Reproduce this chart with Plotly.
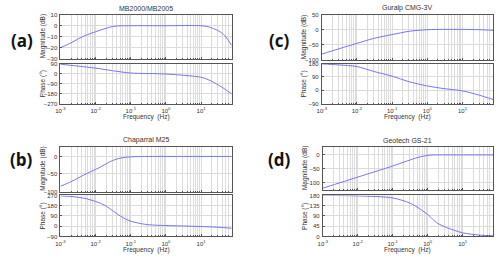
import plotly.graph_objects as go

# ---------------- data ----------------
# (a) MB2000/MB2005
freq_a_mag = [0.001, 0.002, 0.003, 0.005, 0.01, 0.02, 0.03, 0.05, 0.1, 1, 10, 16, 31, 47, 74]
mag_a = [-20, -15.6, -12.5, -9, -5.5, -2.3, -0.8, -0.1, 0, 0, 0, -1, -4.6, -9, -18]
freq_a_ph = [0.001, 0.003, 0.01, 0.03, 0.1, 1, 10, 16, 31, 47, 74]
phase_a = [84, 68, 49, 26, 5, -4, -33, -55, -103, -139, -183]

# (c) Guralp CMG-3V
freq_c_mag = [0.001, 0.003, 0.01, 0.03, 0.1, 0.3, 1, 3, 10, 30, 74]
mag_c = [-81.5, -64, -45.6, -29, -16.3, -5.4, 0, 1, 1, 0, -2]
freq_c_ph = [0.001, 0.003, 0.01, 0.03, 0.1, 0.3, 1, 3, 10, 30, 74]
phase_c = [178, 171, 160, 127, 95, 58, 29, 11, -4, -33, -62]

# (b) Chaparral M25
freq_b_mag = [0.001, 0.002, 0.003, 0.005, 0.007, 0.01, 0.015, 0.02, 0.03, 0.05, 0.07, 0.1, 0.2, 0.5, 1, 10, 74]
mag_b = [-85, -72, -63, -51, -44, -37, -28, -21, -12, -5, -2.5, -1.2, -0.3, 0, 0, 0, 0]
freq_b_ph = [0.001, 0.002, 0.003, 0.005, 0.01, 0.015, 0.02, 0.03, 0.05, 0.07, 0.1, 0.2, 0.3, 0.5, 1, 3, 10, 30, 74]
phase_b = [266, 261, 255, 244, 217, 196, 176, 138, 90, 64, 44, 22, 14, 9, 6, 2, -3, -9, -18]

# (d) Geotech GS-21
freq_d_mag = [0.001, 0.01, 0.1, 0.316, 0.61, 1.1, 1.78, 10, 74]
mag_d = [-120, -80, -40, -18, -7, -1, 0, 0, 0]
freq_d_ph = [0.001, 0.01, 0.1, 0.316, 0.61, 1.1, 1.78, 3.5, 10, 30, 74]
phase_d = [180, 178, 169, 146, 120, 91, 61, 39, 16, 6, 3]

titles = ["MB2000/MB2005", "Guralp CMG-3V", "Chaparral M25", "Geotech GS-21"]
letters = ["(a)", "(c)", "(b)", "(d)"]

x_tickvals = [0.001, 0.01, 0.1, 1, 10]
x_ticktext = ["10<sup>-3</sup>", "10<sup>-2</sup>", "10<sup>-1</sup>", "10<sup>0</sup>", "10<sup>1</sup>"]
minor_vals = [m * 10 ** e for e in range(-3, 2) for m in range(2, 10)]

mag_ticks = [[10, 0, -10, -20, -30], [50, 0, -50, -100], [0, -50, -100], [0, -50, -100]]
mag_ranges = [[-30, 10], [-100, 50], [-100, 28], [-125, 30]]
ph_ticks = [[90, 0, -90, -180, -270], [180, 90, 0, -90], [270, 180, 90, 0, -90], [180, 135, 90, 45, 0]]
ph_ranges = [[-270, 90], [-90, 180], [-90, 270], [0, 180]]

series = [
    (freq_a_mag, mag_a, freq_a_ph, phase_a),
    (freq_c_mag, mag_c, freq_c_ph, phase_c),
    (freq_b_mag, mag_b, freq_b_ph, phase_b),
    (freq_d_mag, mag_d, freq_d_ph, phase_d),
]

# ---------------- layout geometry (pixels) ----------------
W, H = 500, 259
# x0, x1, mag_top, mag_bot, ph_top, ph_bot
boxes = [
    (56, 229, 12, 57, 62, 103),
    (320, 493, 12, 58, 62, 103),
    (56, 229, 147, 193, 197, 239),
    (321, 493, 147, 191, 197, 239),
]
letter_pos = [(17, 38), (277, 38), (17, 160), (277, 160)]

LINE = "#7676ee"
GRID = "#dcdcdc"
FRAME = "#555555"
TXT = "#333333"
FONT = "Liberation Sans"
TICK = 6

fig = go.Figure()
layout = dict(
    width=W, height=H, margin=dict(l=0, r=0, t=0, b=0),
    paper_bgcolor="white", plot_bgcolor="white", showlegend=False,
    font=dict(family=FONT, size=7, color=TXT),
)
annotations = []

def xd(p):
    return p / W

def yd(p):
    return 1 - p / H

for i, (fm, m, fp, p) in enumerate(series):
    x0, x1, mt, mb, pt, pb = boxes[i]
    ka = 2 * i + 1
    kb = 2 * i + 2
    common_x = dict(
        type="log", range=[-3, 1.87], domain=[xd(x0), xd(x1)],
        tickvals=x_tickvals, ticktext=x_ticktext,
        showgrid=True, gridcolor=GRID, gridwidth=1,
        minor=dict(tickvals=minor_vals, showgrid=True, gridcolor=GRID, gridwidth=1,
                   ticks="inside", ticklen=1, tickcolor=FRAME),
        showline=True, linecolor=FRAME, linewidth=1, mirror=True,
        ticks="inside", ticklen=2, tickcolor=FRAME, zeroline=False,
        tickfont=dict(size=TICK, color=TXT, family=FONT),
    )
    layout[f"xaxis{ka}"] = dict(common_x, anchor=f"y{ka}", showticklabels=False)
    layout[f"xaxis{kb}"] = dict(common_x, anchor=f"y{kb}", showticklabels=True, ticklabelstandoff=1)
    common_y = dict(
        showgrid=True, gridcolor=GRID, gridwidth=1,
        showline=True, linecolor=FRAME, linewidth=1, mirror=True,
        ticks="inside", ticklen=2, tickcolor=FRAME, zeroline=False,
        tickfont=dict(size=TICK, color=TXT, family=FONT), ticklabelstandoff=1,
    )
    layout[f"yaxis{ka}"] = dict(common_y, anchor=f"x{ka}", domain=[yd(mb), yd(mt)],
                                range=mag_ranges[i], tickvals=mag_ticks[i])
    layout[f"yaxis{kb}"] = dict(common_y, anchor=f"x{kb}", domain=[yd(pb), yd(pt)],
                                range=ph_ranges[i], tickvals=ph_ticks[i])

    fig.add_trace(go.Scatter(x=fm, y=m, mode="lines",
                             line=dict(color=LINE, width=1, shape="spline", smoothing=0.8),
                             xaxis=f"x{ka}", yaxis=f"y{ka}", hoverinfo="skip"))
    fig.add_trace(go.Scatter(x=fp, y=p, mode="lines",
                             line=dict(color=LINE, width=1, shape="spline", smoothing=0.8),
                             xaxis=f"x{kb}", yaxis=f"y{kb}", hoverinfo="skip"))

    cx = xd((x0 + x1) / 2)
    annotations.append(dict(text=titles[i], x=cx, y=yd(mt - 1), xref="paper", yref="paper",
                            xanchor="center", yanchor="bottom", showarrow=False,
                            font=dict(size=7, color=TXT, family=FONT)))
    annotations.append(dict(text="Frequency  (Hz)", x=cx, y=yd(pb + 13.5), xref="paper", yref="paper",
                            xanchor="center", yanchor="middle", showarrow=False,
                            font=dict(size=6.5, color=TXT, family=FONT)))
    annotations.append(dict(text="Magnitude (dB)", x=xd(x0 - 18), y=yd((mt + mb) / 2), xref="paper", yref="paper",
                            xanchor="center", yanchor="middle", textangle=-90, showarrow=False,
                            font=dict(size=6.5, color=TXT, family=FONT)))
    annotations.append(dict(text="Phase (°)", x=xd(x0 - 18), y=yd((pt + pb) / 2), xref="paper", yref="paper",
                            xanchor="center", yanchor="middle", textangle=-90, showarrow=False,
                            font=dict(size=6.5, color=TXT, family=FONT)))
    lx, ly = letter_pos[i]
    annotations.append(dict(text=f"<b>{letters[i]}</b>", x=xd(lx), y=yd(ly), xref="paper", yref="paper",
                            xanchor="center", yanchor="middle", showarrow=False,
                            font=dict(size=17, color="#111111", family="Open Sans")))

layout["annotations"] = annotations
fig.update_layout(**layout)
fig.write_html("out.html", config={"displayModeBar": False},
               post_script="document.body.style.margin='0';document.body.style.overflow='hidden';")
